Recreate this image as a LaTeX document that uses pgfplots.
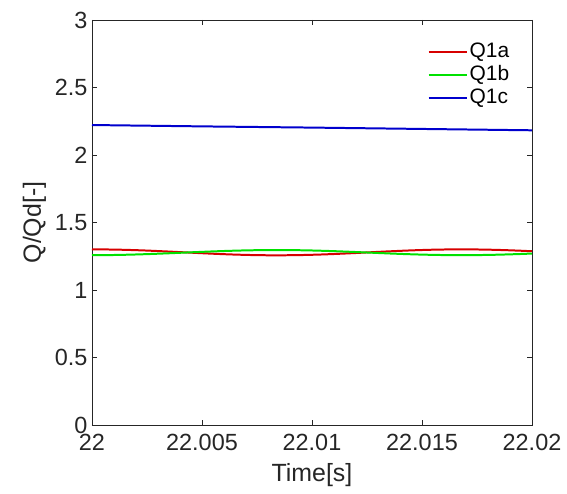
\documentclass[border=0pt]{standalone}
\usepackage{fontspec}
\setmainfont{Liberation Sans}
\usepackage{pgfplots}
\pgfplotsset{compat=1.18}
\definecolor{axgray}{RGB}{38,38,38}
\definecolor{seriesred}{RGB}{215,0,0}
\definecolor{seriesgreen}{RGB}{0,225,0}
\definecolor{seriesblue}{RGB}{0,0,205}
\begin{document}
\begin{tikzpicture}
\begin{axis}[
  name=ax,
  scale only axis,
  width=440bp, height=405bp,
  xmin=22, xmax=22.02, ymin=0, ymax=3,
  xtick={22,22.005,22.01,22.015,22.02},
  xticklabels={22,22.005,22.01,22.015,22.02},
  scaled x ticks=false,
  ytick={0,0.5,1,1.5,2,2.5,3},
  yticklabels={0,0.5,1,1.5,2,2.5,3},
  tick align=inside,
  major tick length=5bp,
  axis line style={axgray, line width=0.6pt},
  tick style={axgray, line width=0.6pt},
  every tick label/.append style={font=\fontsize{23.5}{27}\selectfont, text=axgray},
  xticklabel style={yshift=-6bp},
  yticklabel style={xshift=-1bp},
  xlabel={Time[s]}, ylabel={Q/Qd[-]},
  label style={font=\fontsize{25}{29}\selectfont, text=axgray},
  xlabel style={yshift=-6bp},
  ylabel style={yshift=2bp},
  legend style={draw=none, fill=none, at={(0.96,0.955)}, anchor=north east,
    font=\fontsize{21}{24}\selectfont, row sep=0bp,
    nodes={inner sep=2bp, text height=15bp, text depth=4bp}},
  legend cell align=left,
  legend image code/.code={\draw[#1, line width=2pt] (0bp,0bp) -- (38bp,0bp);},
]
\addplot[color=seriesred, line width=2pt] coordinates {
(22.0000,1.3010)(22.0005,1.3006)(22.0010,1.2995)(22.0015,1.2976)(22.0020,1.2951)
(22.0025,1.2921)(22.0030,1.2885)(22.0035,1.2847)(22.0040,1.2806)(22.0045,1.2765)
(22.0050,1.2725)(22.0055,1.2687)(22.0060,1.2653)(22.0065,1.2623)(22.0070,1.2599)
(22.0075,1.2582)(22.0080,1.2572)(22.0085,1.2570)(22.0090,1.2576)(22.0095,1.2588)
(22.0100,1.2608)(22.0105,1.2634)(22.0110,1.2666)(22.0115,1.2702)(22.0120,1.2741)
(22.0125,1.2782)(22.0130,1.2823)(22.0135,1.2863)(22.0140,1.2900)(22.0145,1.2934)
(22.0150,1.2962)(22.0155,1.2985)(22.0160,1.3000)(22.0165,1.3009)(22.0170,1.3009)
(22.0175,1.3002)(22.0180,1.2988)(22.0185,1.2967)(22.0190,1.2940)(22.0195,1.2908)
(22.0200,1.2871)};
\addlegendentry{Q1a}
\addplot[color=seriesgreen, line width=2pt] coordinates {
(22.0000,1.2580)(22.0005,1.2583)(22.0010,1.2593)(22.0015,1.2609)(22.0020,1.2631)
(22.0025,1.2657)(22.0030,1.2688)(22.0035,1.2721)(22.0040,1.2756)(22.0045,1.2791)
(22.0050,1.2826)(22.0055,1.2859)(22.0060,1.2888)(22.0065,1.2914)(22.0070,1.2935)
(22.0075,1.2949)(22.0080,1.2958)(22.0085,1.2960)(22.0090,1.2955)(22.0095,1.2944)
(22.0100,1.2927)(22.0105,1.2904)(22.0110,1.2877)(22.0115,1.2846)(22.0120,1.2812)
(22.0125,1.2777)(22.0130,1.2742)(22.0135,1.2707)(22.0140,1.2675)(22.0145,1.2646)
(22.0150,1.2621)(22.0155,1.2602)(22.0160,1.2588)(22.0165,1.2581)(22.0170,1.2581)
(22.0175,1.2586)(22.0180,1.2599)(22.0185,1.2617)(22.0190,1.2641)(22.0195,1.2668)
(22.0200,1.2700)};
\addlegendentry{Q1b}
\addplot[color=seriesblue, line width=2pt] coordinates {
(22.000,2.222)(22.005,2.212)(22.010,2.203)(22.015,2.193)(22.020,2.183)};
\addlegendentry{Q1c}
\end{axis}
\pgfresetboundingbox
\path[use as bounding box] ([xshift=-92bp,yshift=-69bp]ax.south west)
  rectangle ([xshift=35bp,yshift=20bp]ax.north east);
\end{tikzpicture}
\end{document}
